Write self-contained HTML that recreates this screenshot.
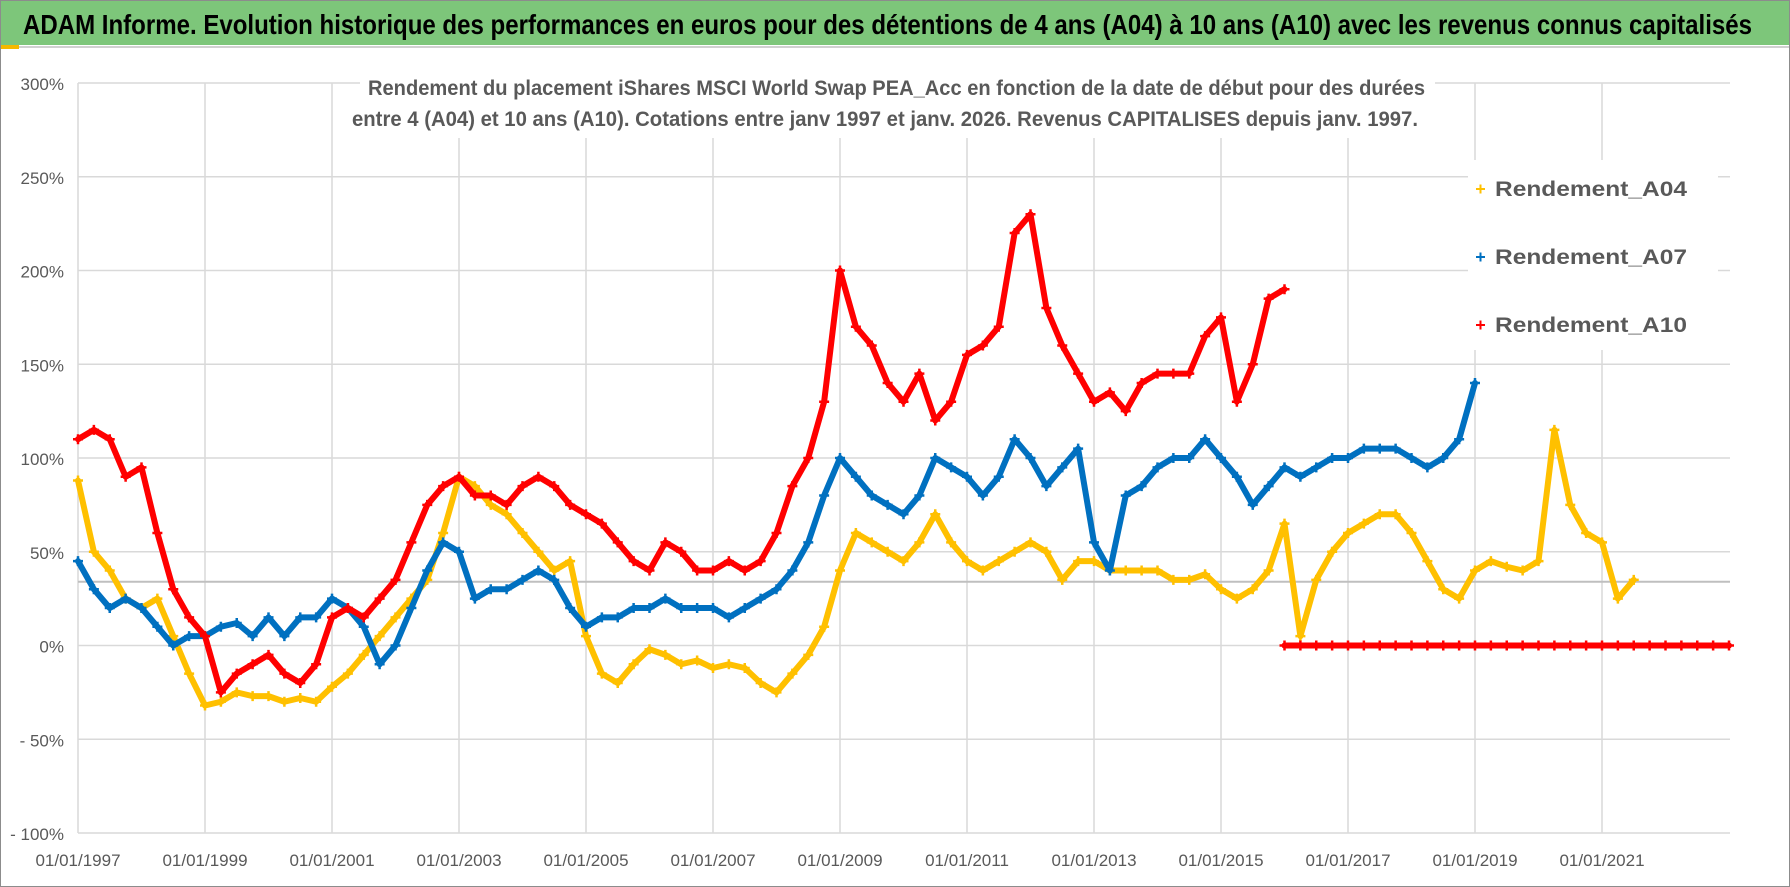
<!DOCTYPE html>
<html><head><meta charset="utf-8"><style>
body{margin:0;background:#fff}
svg{display:block;font-family:"Liberation Sans",sans-serif}
</style></head><body>
<svg id="chart" width="1790" height="887" viewBox="0 0 1790 887">
<rect x="0.5" y="0.5" width="1789" height="886" fill="#fff" stroke="#8c8c8c"/>
<rect x="1" y="1" width="1788" height="44" fill="#7dc67a"/>
<line x1="1" y1="47" x2="1789" y2="47" stroke="#d0d0d0" stroke-width="2"/>
<rect x="1" y="45" width="18" height="4" fill="#f5b800"/>
<text x="23" y="34" font-size="28" font-weight="bold" textLength="1729" lengthAdjust="spacingAndGlyphs" fill="#000">ADAM Informe. Evolution historique des performances en euros pour des détentions de 4 ans (A04) à 10 ans (A10) avec les revenus connus capitalisés</text>
<g id="grid"></g>
<g id="series"></g>
<rect x="360" y="68" width="1075" height="70" fill="#fff"/>
<text x="368" y="95" font-size="21" font-weight="bold" fill="#595959" textLength="1057" lengthAdjust="spacingAndGlyphs">Rendement du placement iShares MSCI World Swap PEA_Acc en fonction de la date de début pour des durées</text>
<text x="352" y="126" font-size="21" font-weight="bold" fill="#595959" textLength="1066" lengthAdjust="spacingAndGlyphs">entre 4 (A04) et 10 ans (A10). Cotations entre janv 1997 et janv. 2026. Revenus CAPITALISES depuis janv. 1997.</text>
<g id="legend"></g>
</svg>
<script>
const NS="http://www.w3.org/2000/svg";
const yTicks=[300,250,200,150,100,50,0,-50,-100];
const yTickLabels=["300%","250%","200%","150%","100%","50%","0%","- 50%","- 100%"];
const xTicks=[1997,1999,2001,2003,2005,2007,2009,2011,2013,2015,2017,2019,2021];
const xTickLabels=["01/01/1997","01/01/1999","01/01/2001","01/01/2003","01/01/2005","01/01/2007","01/01/2009","01/01/2011","01/01/2013","01/01/2015","01/01/2017","01/01/2019","01/01/2021"];
const seriesNames=["Rendement_A04","Rendement_A07","Rendement_A10"];
const startA04=1997, startA07=1997, startA10=1997, startA10Zero=2016.0, stepYears=0.25;
const refLineValue=34;
const a04=[88,50,40,25,20,25,5,-15,-32,-30,-25,-27,-27,-30,-28,-30,-22,-15,-5,5,15,25,35,60,90,85,75,70,60,50,40,45,5,-15,-20,-10,-2,-5,-10,-8,-12,-10,-12,-20,-25,-15,-5,10,40,60,55,50,45,55,70,55,45,40,45,50,55,50,35,45,45,40,40,40,40,35,35,38,30,25,30,40,65,5,35,50,60,65,70,70,60,45,30,25,40,45,42,40,45,115,75,60,55,25,35];
const a07=[45,30,20,25,20,10,0,5,5,10,12,5,15,5,15,15,25,20,10,-10,0,20,40,55,50,25,30,30,35,40,35,20,10,15,15,20,20,25,20,20,20,15,20,25,30,40,55,80,100,90,80,75,70,80,100,95,90,80,90,110,100,85,95,105,55,40,80,85,95,100,100,110,100,90,75,85,95,90,95,100,100,105,105,105,100,95,100,110,140];
const a10=[110,115,110,90,95,60,30,15,5,-25,-15,-10,-5,-15,-20,-10,15,20,15,25,35,55,75,85,90,80,80,75,85,90,85,75,70,65,55,45,40,55,50,40,40,45,40,45,60,85,100,130,200,170,160,140,130,145,120,130,155,160,170,220,230,180,160,145,130,135,125,140,145,145,145,165,175,130,150,185,190];
const a10Zero=[0,0,0,0,0,0,0,0,0,0,0,0,0,0,0,0,0,0,0,0,0,0,0,0,0,0,0,0,0];
const colors=["#ffc000","#0070c0","#ff0000"];
const X0=78,Y0=645.5,YEARPX=63.5,PCTPX=1.875,XEND=1730;
const xs=t=>X0+(t-1997)*YEARPX;
const ys=v=>Y0-v*PCTPX;
function mk(tag,attrs,parent){const e=document.createElementNS(NS,tag);for(const k in attrs)e.setAttribute(k,attrs[k]);parent.appendChild(e);return e;}
const grid=document.getElementById('grid');
yTicks.forEach((v,i)=>{
  const l=mk('line',{x1:X0,x2:XEND,y1:ys(v),y2:ys(v),stroke:'#d9d9d9','stroke-width':1.5},grid);
  
  
  const t=mk('text',{x:64,y:ys(v)+7,'text-anchor':'end','font-size':17,fill:'#595959'},grid);
  t.textContent=yTickLabels[i];
  
  
});
xTicks.forEach((yr,i)=>{
  const l=mk('line',{x1:xs(yr),x2:xs(yr),y1:ys(300),y2:ys(-100),stroke:'#d9d9d9','stroke-width':1.5},grid);
  
  
  const t=mk('text',{x:xs(yr),y:866,'text-anchor':'middle','font-size':17,fill:'#595959'},grid);
  t.textContent=xTickLabels[i];
  
  
});
const rl=mk('line',{x1:X0,x2:XEND,y1:ys(refLineValue),y2:ys(refLineValue),stroke:'#bfbfbf','stroke-width':2},grid);


const sg=document.getElementById('series');
function drawSeries(vals,start,color,name){
  const g=mk('g',{},sg);
  
  
  const pts=vals.map((v,i)=>[xs(start+i*stepYears),ys(v)]);
  mk('polyline',{points:pts.map(p=>p.join(',')).join(' '),fill:'none',stroke:color,'stroke-width':6,'stroke-linejoin':'round','stroke-linecap':'round'},g);
  pts.forEach(p=>{
    const m=mk('path',{d:`M${p[0]-5},${p[1]}h10M${p[0]},${p[1]-5}v10`,stroke:color,'stroke-width':2.5},g);
    
    
  });
}
drawSeries(a04,startA04,colors[0],'series-a04');
drawSeries(a07,startA07,colors[1],'series-a07');
drawSeries(a10,startA10,colors[2],'series-a10');
drawSeries(a10Zero,startA10Zero,colors[2],'series-a10-zero');
const lg=document.getElementById('legend');
mk('rect',{x:1468,y:160,width:250,height:190,fill:'#fff'},lg);
seriesNames.forEach((n,i)=>{
  const y=193+i*68;
  const m=mk('path',{d:`M1476,${y-4}h9M1480.5,${y-8.5}v9`,stroke:colors[i],'stroke-width':2},lg);
  
  
  const t=mk('text',{x:1495,y:y+3,'font-size':21,'font-weight':'bold',fill:'#595959',textLength:192,lengthAdjust:'spacingAndGlyphs'},lg);
  t.textContent=n;
  
  
});
</script>
</body></html>
